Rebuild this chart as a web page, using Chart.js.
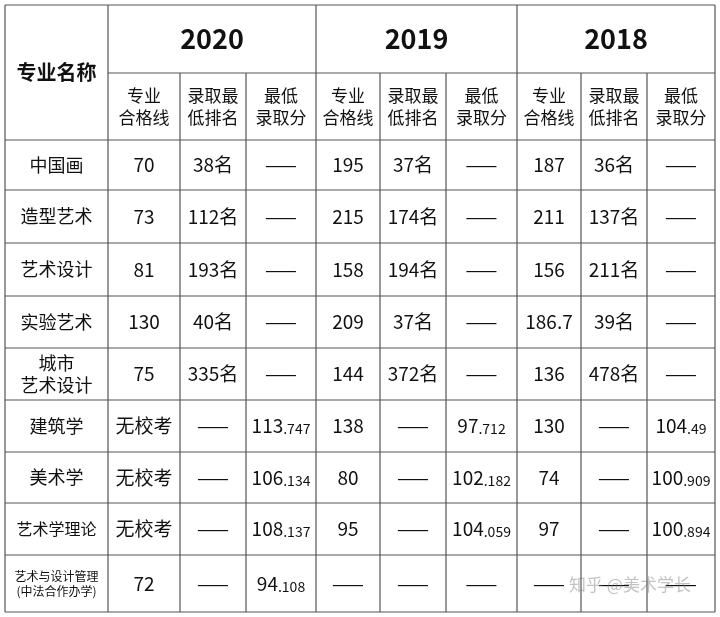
<!DOCTYPE html>
<html><head><meta charset="utf-8">
<script src="https://cdn.jsdelivr.net/npm/chart.js@4/dist/chart.umd.min.js"></script>
<style>html,body{margin:0;padding:0;background:#fff}#wrap{width:720px;height:617px}</style>
</head><body><div id="wrap"><canvas id="c"></canvas></div>
<script>
const years = ["2020", "2019", "2018"];
const subHeads = ["专业\n合格线", "录取最\n低排名", "最低\n录取分"];
const majors = ["中国画", "造型艺术", "艺术设计", "实验艺术", "城市\n艺术设计", "建筑学", "美术学", "艺术学理论", "艺术与设计管理\n(中法合作办学)"];
const y2020 = [["70","38名","——"],["73","112名","——"],["81","193名","——"],["130","40名","——"],["75","335名","——"],["无校考","——","113.747"],["无校考","——","106.134"],["无校考","——","108.137"],["72","——","94.108"]];
const y2019 = [["195","37名","——"],["215","174名","——"],["158","194名","——"],["209","37名","——"],["144","372名","——"],["138","——","97.712"],["80","——","102.182"],["95","——","104.059"],["——","——","——"]];
const y2018 = [["187","36名","——"],["211","137名","——"],["156","211名","——"],["186.7","39名","——"],["136","478名","——"],["130","——","104.49"],["74","——","100.909"],["97","——","100.894"],["——","——","——"]];
const colEdges = [5, 108, 180, 246, 316, 380, 446, 517, 581, 647, 715];
const rowEdges = [5, 73, 140, 190, 243, 296, 348, 400, 452, 503, 555, 612];

const FONT = '"Noto Sans CJK SC", "Noto Sans", sans-serif';

const tablePlugin = {
  id: "table",
  afterDraw(chart) {
    const ctx = chart.ctx, sx = chart.scales.x, sy = chart.scales.y;
    const X = v => sx.getPixelForValue(v), Y = v => sy.getPixelForValue(v);
    ctx.save();
    ctx.textAlign = "center"; ctx.textBaseline = "middle"; ctx.fillStyle = "#111";

    function text(str, cx, cy, size, weight) {
      const lines = str.split("\n");
      ctx.font = `${weight || "normal"} ${size}px ${FONT}`;
      const lh = size * 1.25;
      lines.forEach((l, i) => ctx.fillText(l, cx, cy + (i - (lines.length - 1) / 2) * lh));
    }
    function score(str, cx, cy) {
      const m = str.match(/^(\d+)(\.\d+)$/);
      if (!m) return text(str, cx, cy, 19);
      ctx.font = `19px ${FONT}`; const w1 = ctx.measureText(m[1]).width;
      ctx.font = `14px ${FONT}`; const w2 = ctx.measureText(m[2]).width;
      const left = cx - (w1 + w2) / 2;
      ctx.textAlign = "left";
      ctx.font = `19px ${FONT}`; ctx.fillText(m[1], left, cy);
      ctx.font = `14px ${FONT}`; ctx.fillText(m[2], left + w1, cy + 3);
      ctx.textAlign = "center";
    }

    // grid lines
    ctx.strokeStyle = "#555"; ctx.lineWidth = 1.2;
    const L = X(colEdges[0]), R = X(colEdges[colEdges.length - 1]);
    const T = Y(rowEdges[0]), B = Y(rowEdges[rowEdges.length - 1]);
    ctx.beginPath();
    rowEdges.forEach((r, i) => {
      if (i === 1) { ctx.moveTo(X(colEdges[1]), Y(r)); ctx.lineTo(R, Y(r)); }
      else { ctx.moveTo(L, Y(r)); ctx.lineTo(R, Y(r)); }
    });
    colEdges.forEach((c, i) => {
      const top = (i === 0 || i === 1 || i === 4 || i === 7 || i === 10) ? T : Y(rowEdges[1]);
      ctx.moveTo(X(c), top); ctx.lineTo(X(c), B);
    });
    ctx.stroke();

    // headers
    text("专业名称", (X(colEdges[0]) + X(colEdges[1])) / 2, (Y(rowEdges[0]) + Y(rowEdges[2])) / 2, 20, "bold");
    years.forEach((yr, g) => {
      const a = colEdges[1 + g * 3], b = colEdges[4 + g * 3];
      text(yr, (X(a) + X(b)) / 2, (Y(rowEdges[0]) + Y(rowEdges[1])) / 2, 27, "bold");
      subHeads.forEach((s, k) => {
        const c0 = colEdges[1 + g * 3 + k], c1 = colEdges[2 + g * 3 + k];
        text(s, (X(c0) + X(c1)) / 2, (Y(rowEdges[1]) + Y(rowEdges[2])) / 2, 17);
      });
    });

    // body
    const data = [y2020, y2019, y2018];
    majors.forEach((m, r) => {
      const cy = (Y(rowEdges[2 + r]) + Y(rowEdges[3 + r])) / 2;
      const fs = r === 8 ? 12 : (r === 7 ? 16 : 18);
      text(m, (X(colEdges[0]) + X(colEdges[1])) / 2, cy, fs);
      data.forEach((d, g) => {
        d[r].forEach((v, k) => {
          const c0 = colEdges[1 + g * 3 + k], c1 = colEdges[2 + g * 3 + k];
          const cx = (X(c0) + X(c1)) / 2;
          if (k === 2) score(v, cx, cy); else text(v, cx, cy, 19);
        });
      });
    });

    // watermark
    ctx.fillStyle = "rgba(120,120,120,0.45)";
    ctx.font = `17px ${FONT}`;
    ctx.fillText("知乎 @美术学长", X(630), Y(585));
    ctx.restore();
  }
};

new Chart(document.getElementById("c"), {
  type: "scatter",
  data: { datasets: [{ data: [] }] },
  options: {
    responsive: true, maintainAspectRatio: false, animation: false,
    layout: { padding: 0 },
    plugins: { legend: { display: false }, tooltip: { enabled: false } },
    scales: {
      x: { type: "linear", min: 0, max: 720, display: false },
      y: { type: "linear", min: 0, max: 617, reverse: true, display: false }
    }
  },
  plugins: [tablePlugin]
});
</script></body></html>
